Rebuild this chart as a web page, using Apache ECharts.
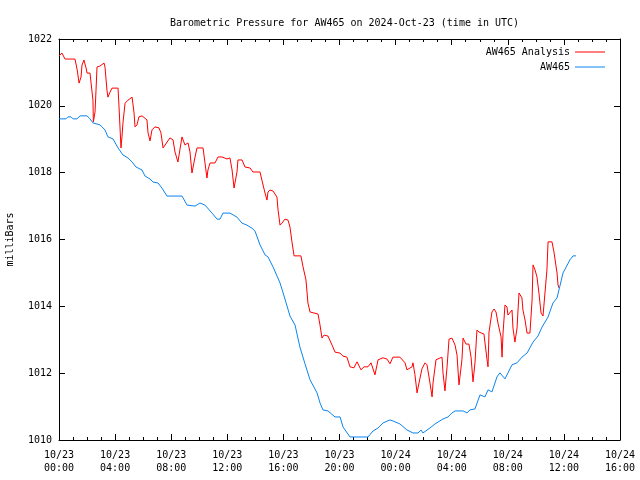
<!DOCTYPE html>
<html><head><meta charset="utf-8">
<script src="https://cdn.jsdelivr.net/npm/echarts@6/dist/echarts.min.js"></script>
<style>html,body{margin:0;padding:0;background:#fff}#c{width:640px;height:480px}</style>
</head><body><div id="c"></div>
<script>
// hours since 2024-10-23 00:00 UTC
const analysisHours = [0,0.21,0.29,0.43,0.64,0.93,1.00,1.14,1.28,1.30,1.43,1.57,1.64,1.78,1.93,2.00,2.21,2.28,2.42,2.45,2.57,2.64,2.71,2.92,3.21,3.28,3.42,3.49,3.64,3.78,4.21,4.28,4.42,4.49,4.56,4.71,4.92,5.21,5.35,5.42,5.56,5.70,5.92,6.27,6.35,6.49,6.63,6.84,7.13,7.27,7.42,7.56,7.91,8.13,8.27,8.48,8.77,8.98,9.20,9.34,9.48,9.70,9.84,10.27,10.41,10.55,10.62,10.77,11.12,11.34,11.62,11.98,12.19,12.34,12.48,12.69,12.76,13.05,13.26,13.62,13.83,14.33,14.55,14.69,14.83,14.90,15.04,15.26,15.54,15.62,15.76,15.90,16.11,16.33,16.47,16.61,16.76,17.25,17.40,17.61,17.75,17.90,18.47,18.61,18.75,18.90,19.18,19.47,19.68,20.04,20.25,20.53,20.75,21.03,21.25,21.53,21.75,22.03,22.25,22.53,22.75,23.10,23.39,23.60,23.81,24.31,24.67,24.81,25.17,25.24,25.38,25.53,25.67,25.88,26.10,26.24,26.45,26.60,26.67,26.88,27.31,27.38,27.52,27.67,27.81,28.02,28.24,28.38,28.52,28.73,28.81,29.02,29.23,29.38,29.52,29.66,29.80,29.95,30.30,30.52,30.59,30.66,30.87,31.02,31.16,31.30,31.52,31.59,31.66,31.80,31.94,32.01,32.30,32.37,32.51,32.66,32.73,32.80,33.01,33.08,33.23,33.37,33.58,33.73,33.80,33.94,34.08,34.22,34.37,34.51,34.65,34.79,34.87,35.15,35.29,35.51,35.58,35.65];
const analysisValues = [1021.49,1021.58,1021.55,1021.40,1021.40,1021.40,1021.43,1021.40,1021.43,1021.07,1020.68,1020.86,1021.22,1021.37,1021.13,1020.98,1020.98,1020.71,1020.17,1019.52,1019.82,1020.47,1021.16,1021.19,1021.28,1021.16,1020.47,1020.26,1020.41,1020.53,1020.53,1019.97,1018.74,1019.07,1019.49,1020.08,1020.17,1020.26,1019.79,1019.37,1019.43,1019.67,1019.70,1019.58,1019.19,1018.95,1019.28,1019.37,1019.34,1019.19,1018.74,1018.77,1019.04,1018.98,1018.62,1018.32,1019.07,1018.83,1018.89,1018.62,1017.99,1018.47,1018.74,1018.74,1018.29,1017.84,1018.08,1018.29,1018.29,1018.47,1018.47,1018.41,1018.44,1018.08,1017.54,1018.02,1018.38,1018.38,1018.17,1018.14,1018.02,1018.02,1017.63,1017.39,1017.18,1017.42,1017.48,1017.45,1017.27,1016.88,1016.43,1016.49,1016.61,1016.58,1016.37,1015.93,1015.51,1015.51,1015.18,1014.79,1014.10,1013.83,1013.77,1013.44,1013.05,1013.14,1013.11,1012.84,1012.63,1012.60,1012.51,1012.48,1012.19,1012.16,1012.34,1012.10,1012.19,1012.19,1012.31,1011.95,1012.40,1012.46,1012.42,1012.28,1012.48,1012.48,1012.31,1012.10,1012.19,1012.31,1011.95,1011.41,1011.71,1012.13,1012.31,1012.25,1011.71,1011.29,1011.71,1012.40,1012.48,1012.01,1011.47,1012.19,1013.02,1013.05,1012.84,1012.54,1011.65,1012.40,1013.05,1012.87,1012.87,1012.48,1011.74,1012.31,1013.29,1013.23,1013.17,1012.40,1012.19,1013.23,1013.83,1013.92,1013.83,1013.50,1013.08,1012.48,1013.20,1014.04,1013.98,1013.74,1013.89,1013.35,1012.93,1013.35,1013.89,1014.40,1014.25,1013.89,1013.59,1013.20,1013.20,1014.19,1015.24,1015.09,1014.88,1014.40,1013.80,1013.71,1013.71,1015.09,1015.93,1015.93,1015.63,1015.00,1014.64,1014.55];
const stationHours = [0,0.5,0.64,0.86,1.0,1.28,1.5,2.0,2.21,2.42,2.92,3.28,3.49,3.85,4.21,4.56,4.92,5.21,5.49,5.92,6.13,6.49,6.70,7.06,7.34,7.70,8.77,9.13,9.70,10.05,10.41,10.91,11.27,11.48,11.69,12.19,12.69,13.05,13.40,13.76,13.98,14.33,14.69,14.90,15.26,15.76,16.11,16.47,16.83,17.18,17.54,17.90,18.40,18.61,18.82,19.18,19.68,20.04,20.25,20.75,22.03,22.39,22.75,23.10,23.60,23.81,24.31,24.81,25.24,25.60,25.81,25.95,26.45,26.81,27.38,27.74,28.02,28.24,28.81,29.09,29.30,29.66,30.02,30.37,30.59,30.87,31.23,31.44,31.80,32.30,32.66,33.01,33.37,33.80,34.15,34.44,34.87,35.22,35.51,35.94,36.43,36.65,36.86];
const stationValues = [1019.61,1019.61,1019.67,1019.67,1019.61,1019.61,1019.70,1019.70,1019.61,1019.49,1019.43,1019.28,1019.07,1019.01,1018.74,1018.53,1018.44,1018.32,1018.17,1018.08,1017.90,1017.81,1017.72,1017.69,1017.54,1017.30,1017.30,1017.03,1017.00,1017.09,1017.03,1016.79,1016.61,1016.61,1016.79,1016.79,1016.67,1016.49,1016.43,1016.34,1016.25,1015.84,1015.54,1015.48,1015.18,1014.70,1014.22,1013.71,1013.44,1012.78,1012.28,1011.80,1011.41,1011.11,1010.90,1010.87,1010.69,1010.69,1010.39,1010.09,1010.09,1010.27,1010.36,1010.51,1010.60,1010.57,1010.48,1010.30,1010.21,1010.21,1010.30,1010.21,1010.36,1010.48,1010.63,1010.69,1010.81,1010.87,1010.87,1010.81,1010.90,1010.93,1011.35,1011.29,1011.50,1011.44,1011.89,1012.01,1011.83,1012.25,1012.31,1012.48,1012.60,1012.93,1013.11,1013.38,1013.68,1014.10,1014.25,1015.00,1015.39,1015.51,1015.51];
const xTickLabels = ['10/23\n00:00','10/23\n04:00','10/23\n08:00','10/23\n12:00','10/23\n16:00','10/23\n20:00','10/24\n00:00','10/24\n04:00','10/24\n08:00','10/24\n12:00','10/24\n16:00'];
const seriesNames = ['AW465 Analysis','AW465'];
const titleText = 'Barometric Pressure for AW465 on 2024-Oct-23 (time in UTC)';
const yAxisName = 'milliBars';

const FONT = '"DejaVu Sans Mono", "Liberation Mono", monospace';
const BLACK = '#000';
const pair = (xs, ys) => xs.map((x, i) => [x, ys[i]]);

const axisCommon = {
  type: 'value',
  axisLine: { show: true, onZero: false, lineStyle: { color: BLACK, width: 1 } },
  axisTick: { show: true, inside: true, length: 6, lineStyle: { color: BLACK } },
  splitLine: { show: false }
};

const chart = echarts.init(document.getElementById('c'), null, { renderer: 'canvas' });
chart.setOption({
  animation: false,
  backgroundColor: '#fff',
  title: {
    text: titleText, left: 339.5, top: 13, textAlign: 'center',
    textStyle: { fontFamily: FONT, fontSize: 10, fontWeight: 'normal', color: BLACK }
  },
  legend: [
    { data: [seriesNames[0]], right: 30, top: 42, align: 'right', orient: 'vertical',
      icon: 'rect', itemWidth: 30, itemHeight: 1, itemGap: 4,
      textStyle: { fontFamily: FONT, fontSize: 10, color: BLACK } },
    { data: [seriesNames[1]], right: 30, top: 57, align: 'right', orient: 'vertical',
      icon: 'rect', itemWidth: 30, itemHeight: 1, itemGap: 4,
      textStyle: { fontFamily: FONT, fontSize: 10, color: BLACK } }
  ],
  grid: { left: 59, right: 20, top: 39, bottom: 40, containLabel: false, outerBoundsMode: 'none' },
  xAxis: [
    Object.assign({}, axisCommon, {
      position: 'bottom', min: 0, max: 40, interval: 4,
      minorTick: { show: true, splitNumber: 4, length: 3, lineStyle: { color: BLACK } },
      axisLabel: { margin: 9, fontFamily: FONT, fontSize: 10, color: BLACK, lineHeight: 13,
        formatter: v => xTickLabels[Math.round(v / 4)] }
    }),
    Object.assign({}, axisCommon, {
      position: 'top', min: 0, max: 40, interval: 4,
      minorTick: { show: true, splitNumber: 4, length: 3, lineStyle: { color: BLACK } },
      axisLabel: { show: false }
    })
  ],
  yAxis: [
    Object.assign({}, axisCommon, {
      position: 'left', min: 1010, max: 1022, interval: 2,
      name: yAxisName, nameLocation: 'middle', nameGap: 44, nameRotate: 90,
      nameTextStyle: { fontFamily: FONT, fontSize: 10, color: BLACK },
      axisLabel: { margin: 7, fontFamily: FONT, fontSize: 10, color: BLACK, formatter: v => String(v) }
    }),
    Object.assign({}, axisCommon, {
      position: 'right', min: 1010, max: 1022, interval: 2,
      axisLabel: { show: false }
    })
  ],
  series: [
    { name: seriesNames[0], type: 'line', data: pair(analysisHours, analysisValues),
      showSymbol: false, symbol: 'none', color: '#ff0000',
      lineStyle: { color: '#ff0000', width: 1 }, itemStyle: { color: '#ff0000' } },
    { name: seriesNames[1], type: 'line', data: pair(stationHours, stationValues),
      showSymbol: false, symbol: 'none', color: '#0a84f0',
      lineStyle: { color: '#0a84f0', width: 1 }, itemStyle: { color: '#0a84f0' } }
  ]
});
</script></body></html>
